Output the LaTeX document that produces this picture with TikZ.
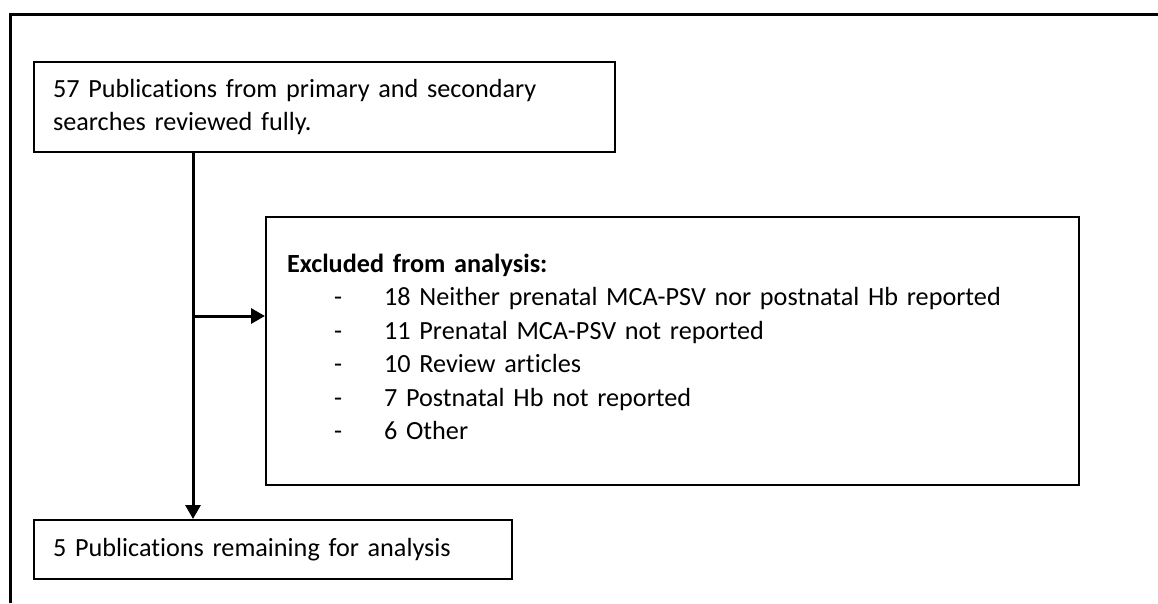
\documentclass[tikz,border=0pt]{standalone}
\usepackage{fontspec}
\setmainfont{Carlito}[Ligatures={NoCommon}]
\usetikzlibrary{arrows.meta}
\newcommand\myboxfont{\fontsize{26.2}{33.5}\selectfont}
\begin{document}
\begin{tikzpicture}[x=1pt,y=-1pt,
  flowbox/.style={draw=black,line width=2.2pt,align=left,inner ysep=0pt,anchor=north west,font=\myboxfont},
  flowarrow/.style={line width=3pt,-{Triangle[length=14pt,width=15pt]}}]
\useasboundingbox (0,0) rectangle (1158,603);
% outer frame
\coordinate (fbl) at (10,603);
\coordinate (ftl) at (10,14.5);
\coordinate (ftr) at (1158,14.5);
\draw[line width=3pt] (fbl) -- (ftl) -- (ftr);
% boxes
\node[flowbox,minimum width=581pt,minimum height=90pt,inner xsep=19pt,text width=543pt] (b1) at (33,61)
  {57 Publications from primary and secondary\\searches reviewed fully.};
\node[flowbox,minimum width=813pt,minimum height=268pt,inner xsep=21pt,text width=771pt] (b2) at (265,216)
  {\textbf{Excluded from analysis:}\\
   \hspace*{47pt}\makebox[50pt][l]{-}18 Neither prenatal MCA-PSV nor postnatal Hb reported\\
   \hspace*{47pt}\makebox[50pt][l]{-}11 Prenatal MCA-PSV not reported\\
   \hspace*{47pt}\makebox[50pt][l]{-}10 Review articles\\
   \hspace*{47pt}\makebox[50pt][l]{-}7 Postnatal Hb not reported\\
   \hspace*{47pt}\makebox[50pt][l]{-}6 Other\\[-25pt]\mbox{}};
\node[flowbox,minimum width=478pt,minimum height=59pt,inner xsep=19pt,text width=440pt] (b3) at (33,519)
  {5 Publications remaining for analysis};
% connectors
\coordinate (vx) at (193,0);
\coordinate (ha) at (193,316);
\draw[flowarrow] (b1.south -| vx) -- (b3.north -| vx);
\draw[flowarrow] (ha) -- (ha -| b2.west);
\end{tikzpicture}
\end{document}
